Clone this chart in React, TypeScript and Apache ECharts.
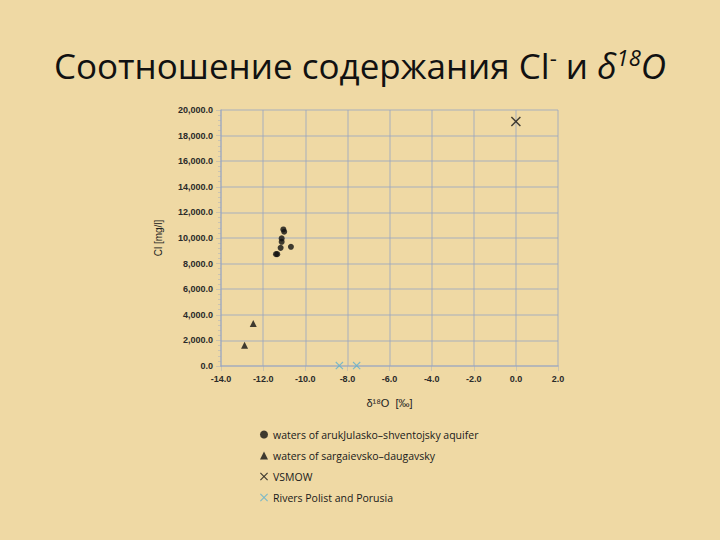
import React, { useEffect, useRef } from "react";
import * as echarts from "echarts";

const aquiferData: number[][] = [
  [-11.04, 10670],
  [-11.0, 10490],
  [-11.12, 9970],
  [-11.12, 9700],
  [-11.17, 9230],
  [-11.33, 8740],
  [-11.39, 8740],
  [-10.68, 9310],
];
const sargData: number[][] = [
  [-12.47, 3320],
  [-12.88, 1620],
];
const vsmowData: number[][] = [[0, 19100]];
const riversData: number[][] = [
  [-8.38, 30],
  [-7.56, 30],
];
const seriesNames = [
  "waters of arukJulasko\u2013shventojsky aquifer",
  "waters of sargaievsko\u2013daugavsky",
  "VSMOW",
  "Rivers Polist and Porusia",
];

const X_PATH =
  "path://M1,0 L5,4 L9,0 L10,1 L6,5 L10,9 L9,10 L5,6 L1,10 L0,9 L4,5 L0,1 Z";

export default function App() {
  const ref = useRef<HTMLDivElement>(null);
  useEffect(() => {
    if (!ref.current) return;
    const chart = echarts.init(ref.current, undefined, { renderer: "svg" });
    const gridColor = "rgba(150,165,195,0.4)";
    const labelFont = { color: "#2a2a2a", fontSize: 9, fontFamily: "Liberation Sans, Arial", fontWeight: "bold" as const };
    chart.setOption({
      animation: false,
      backgroundColor: "#EFD9A4",
      graphic: [
        {
          type: "text",
          left: "center",
          top: 46,
          style: {
            text: "{n|Соотношение содержания Cl}{s|-}{n| и }{i|δ}{si|18}{i|O}",
            rich: {
              n: { fontSize: 35, fontFamily: "Open Sans", fill: "#111" },
              s: { fontSize: 22, fontFamily: "Open Sans", fill: "#111", padding: [0, 0, 16, 0] },
              i: { fontSize: 35, fontFamily: "Open Sans", fontStyle: "italic", fill: "#111" },
              si: { fontSize: 22, fontFamily: "Open Sans", fontStyle: "italic", fill: "#111", padding: [0, 0, 16, 0] },
            },
          },
        },
      ],
      grid: { left: 221, right: 162, top: 110, bottom: 174 },
      xAxis: {
        type: "value",
        min: -14,
        max: 2,
        interval: 2,
        name: "δ¹⁸O  [‰]",
        nameLocation: "middle",
        nameGap: 31,
        nameTextStyle: { color: "#222", fontSize: 11, fontFamily: "Liberation Sans, Arial" },
        axisLine: { show: true, onZero: false, lineStyle: { color: gridColor, width: 2 } },
        axisTick: { show: true, lineStyle: { color: gridColor } },
        axisLabel: { ...labelFont, margin: 8, formatter: (v: number) => v.toFixed(1) },
        splitLine: { show: true, lineStyle: { color: gridColor, width: 2 } },
      },
      yAxis: {
        type: "value",
        min: 0,
        max: 20000,
        interval: 2000,
        name: "Cl [mg/l]",
        nameLocation: "middle",
        nameGap: 58,
        nameTextStyle: { color: "#222", fontSize: 10, fontFamily: "Liberation Sans, Arial" },
        axisLine: { show: true, onZero: false, lineStyle: { color: gridColor, width: 2 } },
        axisTick: { show: true, lineStyle: { color: gridColor } },
        minorTick: { show: true, splitNumber: 5, length: 3, lineStyle: { color: gridColor } },
        axisLabel: {
          ...labelFont,
          margin: 8,
          formatter: (v: number) =>
            v.toLocaleString("en-US", { minimumFractionDigits: 1, maximumFractionDigits: 1 }),
        },
        splitLine: { show: true, lineStyle: { color: gridColor, width: 2 } },
      },
      legend: {
        orient: "vertical",
        left: 255,
        top: 424,
        itemGap: 10,
        itemWidth: 8,
        itemHeight: 8,
        textStyle: { color: "#1a1a1a", fontSize: 10.5, fontFamily: "Open Sans" },
        data: seriesNames,
      },
      series: [
        {
          name: seriesNames[0],
          type: "scatter",
          data: aquiferData,
          symbol: "circle",
          symbolSize: 6,
          itemStyle: { color: "#111" },
        },
        {
          name: seriesNames[1],
          type: "scatter",
          data: sargData,
          symbol: "triangle",
          symbolSize: 7,
          itemStyle: { color: "#111" },
        },
        {
          name: seriesNames[2],
          type: "scatter",
          data: vsmowData,
          symbol: X_PATH,
          symbolSize: 10,
          itemStyle: { color: "#111" },
        },
        {
          name: seriesNames[3],
          type: "scatter",
          data: riversData,
          symbol: X_PATH,
          symbolSize: 8,
          itemStyle: { color: "#5FB0CF" },
        },
      ],
    });
    return () => chart.dispose();
  }, []);
  return <div ref={ref} style={{ width: 720, height: 540, position: "fixed", left: 0, top: 0 }} />;
}
